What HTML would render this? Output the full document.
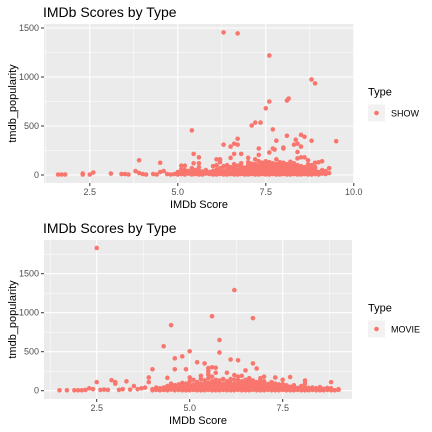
<!DOCTYPE html>
<html><head><meta charset="utf-8"><style>
body{margin:0;background:#fff;}
svg{display:block;font-family:"Liberation Sans",Arial,sans-serif;}
</style></head><body>
<svg id="c" width="432" height="432" xmlns="http://www.w3.org/2000/svg"></svg>
<script>
// ---- SHOW data ----
const showOutScore=[6.3,6.7,7.6,8.8,8.9,8.1,8.15,7.6,7.5,7.1,7.2,7.35,5.4,7.7,6.7,6.3,6.5,6.6,6.7,6.8,6.6,6.5,5.45,5.6,5.45,5.6,3.9,4.5,7.0,7.2,7.3,7.3,7.6,7.7,7.75,7.8,7.8,8.0,8.0,8.1,8.3,8.35,8.4,8.4,8.5,8.6,8.5,8.8,8.6,8.5,8.4,9.5,9.0,9.1,8.9,8.7,6.1,6.2,6.2,5.1,5.2,7.9,8.2,7.4,7.5,
1.6,1.7,1.8,2.3,2.3,2.5,2.6,3.1,3.4,3.5,3.6,3.8,3.9,4.0,4.1,4.3,4.4,4.5,4.6,4.7,4.8,4.9,5.0];
const showOutPop=[1455,1445,1220,975,935,760,780,750,680,505,535,535,455,465,370,310,290,320,310,215,215,175,215,180,120,120,150,125,175,160,205,270,230,270,260,350,160,270,280,400,310,360,320,235,410,390,290,350,180,180,170,345,130,140,125,150,160,160,130,95,95,130,135,120,110,
5,5,5,5,15,5,25,15,10,10,5,40,20,10,5,10,5,30,40,10,5,10,20];
const showBandScore=[5.0,5.1,5.2,5.3,5.4,5.5,5.6,5.7,5.8,5.9,6.0,6.1,6.2,6.3,6.4,6.5,6.6,6.7,6.8,6.9,7.0,7.1,7.2,7.3,7.4,7.5,7.6,7.7,7.8,7.9,8.0,8.1,8.2,8.3,8.4,8.5,8.6,8.7,8.8,8.9,9.0,9.1,9.2,9.3];
const showBandPop=[[5,30],[10,40,60],[5,25,50],[15,40],[5,30,70],[10,30,50],[5,20,45,80],[5,35],[15,50],[10,30],[5,25,40,90],[5,20,55,100],[10,35,70],[5,25,45,90],[5,15,35,60,100],[10,25,40,80],[5,30,50,70,110],[5,20,50,95],[10,25,45,65,85,120],[5,20,35,55,75],[5,15,35,55,80,100,130],[10,25,40,60,80,115],[5,15,30,50,70,90,110],[5,20,40,60,80,95,140],[10,25,45,65,85,105,125],[5,20,35,55,75,100,140],[5,15,35,55,75,90,130],[10,25,40,60,80,100,120],[5,20,30,50,70,90,110],[5,20,40,60,80,100],[10,25,45,65,85,105,125],[5,20,35,55,75,95,110],[5,15,35,55,75,95],[10,25,40,60,80,100,120],[5,15,30,50,70,100],[5,20,35,50,70,90],[10,25,40,60,80],[5,20,35,50,70,110],[5,15,30,50,75,100],[10,25,40,60,80],[5,30],[15,50],[10,40],[20,70]];
// ---- MOVIE data ----
const movieOutScore=[2.5,6.2,5.6,6.7,4.5,5.8,4.3,5.0,5.8,4.8,4.6,6.1,6.3,5.2,5.4,6.7,4.0,4.6,4.9,5.5,5.6,5.7,6.8,6.0,5.5,6.5,2.5,2.9,3.0,3.0,3.3,3.9,3.9,4.4,5.3,5.6,6.2,6.4,7.0,7.3,7.7,8.1,8.8,7.5,6.9,
1.5,1.7,1.9,2.0,2.1,2.2,2.3,2.4,2.6,2.7,2.8,3.1,3.2,3.4,3.5,3.6,3.7,3.8,4.1,4.2,9.0,9.0,8.9];
const movieOutPop=[1830,1290,955,930,840,650,570,505,490,440,415,400,390,365,350,350,275,275,275,290,300,295,285,230,250,260,110,135,110,90,120,170,110,165,190,180,200,190,180,170,175,130,110,140,160,
5,5,5,5,5,10,30,20,10,15,10,10,20,15,60,20,30,40,40,30,10,20,5];
const movieBandScore=[4.0,4.1,4.2,4.3,4.4,4.5,4.6,4.7,4.8,4.9,5.0,5.1,5.2,5.3,5.4,5.5,5.6,5.7,5.8,5.9,6.0,6.1,6.2,6.3,6.4,6.5,6.6,6.7,6.8,6.9,7.0,7.1,7.2,7.3,7.4,7.5,7.6,7.7,7.8,7.9,8.0,8.1,8.2,8.3,8.4,8.5,8.6,8.7,8.8];
const movieBandPop=[[5,20],[10],[5,25],[10,40],[5,30,60],[15,45,90],[5,30,70],[10,40,80],[5,35,60,100],[5,15,45,90],[5,20,30,50,70,120,170],[10,25,40,60,80,140],[5,20,35,55,75,110],[5,15,30,50,70,90,150],[5,20,40,60,80,130],[10,25,45,70,100,160,210],[5,20,35,55,75,120],[5,15,30,50,70,95,140,230],[5,20,40,60,85,130],[10,25,45,65,90,150],[5,20,35,55,80,120],[5,15,35,55,75,100,150],[5,20,40,60,85,140],[10,25,45,65,90,130,180],[5,20,35,55,75,120],[5,15,30,50,70,95,140],[5,20,40,60,80,120,160],[10,25,45,65,90,130],[5,20,35,55,75,110],[5,15,30,50,70,90,130],[5,20,40,60,80,120],[10,25,45,65,85],[5,20,35,55,75,110],[5,15,30,50,70,90],[5,20,40,60,80],[10,25,45,65,85],[5,20,35,50,70],[5,15,30,50],[5,20,40,70],[10,20,35],[5,15,30,60],[5,15,30,45,90],[5,20,35],[10,25,40],[5,15,30],[5,15,30,45],[5,25],[10,35],[5,30]];
const showXTicks=[2.5,5.0,7.5,10.0], showXLabels=["2.5","5.0","7.5","10.0"];
const showYTicks=[0,500,1000,1500];
const movieXTicks=[2.5,5.0,7.5], movieXLabels=["2.5","5.0","7.5"];
const movieYTicks=[0,500,1000,1500];

const svg=document.getElementById('c');
const NS='http://www.w3.org/2000/svg';
function mk(tag,attrs,parent,text){const e=document.createElementNS(NS,tag);for(const k in attrs)e.setAttribute(k,attrs[k]);if(text!==undefined)e.textContent=text;(parent||svg).appendChild(e);return e;}

function panel(opt){
  const g=mk('g',{});
  
  
  const {L,R,T,B}=opt;
  const xs=v=>opt.x0px+(v-opt.x0)*opt.xk;
  const ys=v=>opt.y0px-v*opt.yk;
  const title=mk('text',{x:43,y:T-7,'font-size':14,fill:'#000'},g,'IMDb Scores by Type');
  
  
  mk('rect',{x:L,y:T,width:R-L,height:B-T,fill:'#ebebeb'},g);
  const xmin=opt.x0+(L-opt.x0px)/opt.xk, xmax=opt.x0+(R-opt.x0px)/opt.xk;
  for(let v=1.25;v<=xmax;v+=2.5){if(v<xmin)continue;mk('line',{x1:xs(v),x2:xs(v),y1:T,y2:B,stroke:'#fff','stroke-width':0.5},g);}
  const ymax=(opt.y0px-T)/opt.yk;
  for(let v=250;v<=ymax;v+=500){mk('line',{x1:L,x2:R,y1:ys(v),y2:ys(v),stroke:'#fff','stroke-width':0.5},g);}
  opt.xt.forEach((v,i)=>{
    mk('line',{x1:xs(v),x2:xs(v),y1:T,y2:B,stroke:'#fff','stroke-width':1.1},g);
    mk('line',{x1:xs(v),x2:xs(v),y1:B,y2:B+3,stroke:'#333','stroke-width':1},g);
    const t=mk('text',{x:xs(v),y:B+12,'font-size':9,fill:'#4d4d4d','text-anchor':'middle'},g,opt.xl[i]);
    
    
  });
  opt.yt.forEach(v=>{
    mk('line',{x1:L,x2:R,y1:ys(v),y2:ys(v),stroke:'#fff','stroke-width':1.1},g);
    mk('line',{x1:L-3,x2:L,y1:ys(v),y2:ys(v),stroke:'#333','stroke-width':1},g);
    const t=mk('text',{x:L-5,y:ys(v)+3,'font-size':9,fill:'#4d4d4d','text-anchor':'end'},g,String(v));
    
    
  });
  const pts=mk('g',{fill:'#F8766D'},g);
  
  
  opt.sx.forEach((s,i)=>{const c=mk('circle',{cx:xs(s),cy:ys(opt.sy[i]),r:2.3},pts);
    
    });
  opt.bx.forEach((s,i)=>{opt.by[i].forEach(p=>{const c=mk('circle',{cx:xs(s),cy:ys(p),r:2.3},pts);
    
    });});
  const xt=mk('text',{x:(L+R)/2,y:B+25,'font-size':11,fill:'#000','text-anchor':'middle'},g,'IMDb Score');
  
  
  const cy=(T+B)/2;
  const yt=mk('text',{x:16,y:cy,'font-size':11,fill:'#000','text-anchor':'middle',transform:`rotate(-90 16 ${cy})`},g,'tmdb_popularity');
  
  
  const lg=mk('g',{},g);
  
  
  const ly=T+(B-T)/2;
  mk('text',{x:368,y:ly-8,'font-size':11,fill:'#000'},lg,'Type');
  mk('rect',{x:368,y:ly+1,width:17,height:17,fill:'#f2f2f2'},lg);
  mk('circle',{cx:376.5,cy:ly+9.5,r:2.3,fill:'#F8766D'},lg);
  const le=mk('text',{x:391,y:ly+13,'font-size':9,fill:'#000'},lg,opt.label);
  
  
}
panel({name:'show',label:'SHOW',L:44,R:354,T:24,B:183,x0:5,x0px:177.8,xk:35.2,y0px:175,yk:0.098,
  xt:showXTicks,xl:showXLabels,yt:showYTicks,sx:showOutScore,sy:showOutPop,bx:showBandScore,by:showBandPop});
panel({name:'movie',label:'MOVIE',L:44,R:352,T:240,B:399,x0:5,x0px:189.7,xk:37.2,y0px:390.7,yk:0.078,
  xt:movieXTicks,xl:movieXLabels,yt:movieYTicks,sx:movieOutScore,sy:movieOutPop,bx:movieBandScore,by:movieBandPop});
</script>
</body></html>
